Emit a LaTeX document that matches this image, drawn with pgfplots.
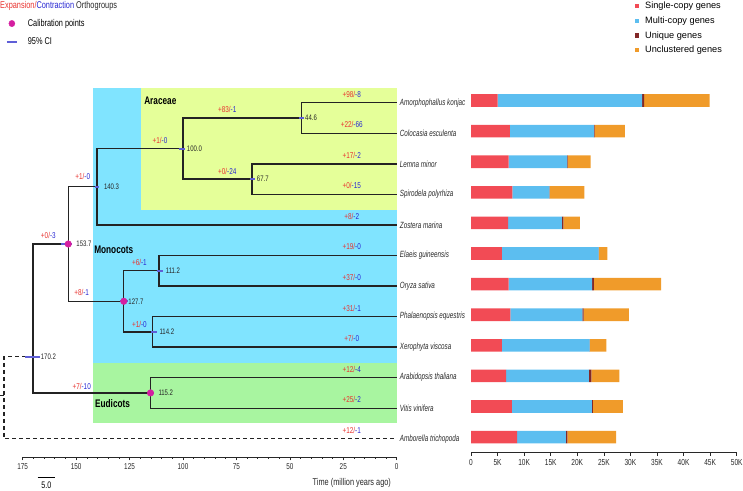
\documentclass[border=0pt]{standalone}
\usepackage{pgfplots}
\pgfplotsset{compat=1.18}
\usepackage{pgfplotstable}
\usepackage{fontspec}
\setmainfont{Liberation Sans}
\newfontfamily\nar{Liberation Sans}[FakeStretch=0.75]
\newfontfamily\narsp{Liberation Sans}[FakeStretch=0.7]
\definecolor{expred}{RGB}{232,52,48}
\definecolor{conblue}{RGB}{40,40,210}
\definecolor{txt}{RGB}{40,40,40}
\definecolor{treecol}{RGB}{35,35,35}
\definecolor{cicol}{RGB}{95,95,215}
\definecolor{calib}{RGB}{212,30,160}
\definecolor{monoblue}{RGB}{128,228,255}
\definecolor{arayellow}{RGB}{229,255,153}
\definecolor{eudgreen}{RGB}{168,245,160}
\definecolor{sc}{RGB}{242,75,85}
\definecolor{mc}{RGB}{92,190,240}
\definecolor{uq}{RGB}{130,40,40}
\definecolor{uc}{RGB}{240,155,42}
\newcommand{\el}[2]{{\color{expred}#1}{\color{conblue}#2}}
\tikzset{
  lab/.style={font=\nar\fontsize{8.5}{9}\selectfont, inner sep=0pt, yshift=8.5pt},
  nl/.style={font=\nar\fontsize{8}{9}\selectfont, inner sep=0pt, anchor=west, color=txt},
  grp/.style={font=\nar\bfseries\fontsize{11}{12}\selectfont, inner sep=0pt, anchor=west, color=black},
  sp/.style={font=\narsp\itshape\fontsize{9}{10}\selectfont, inner sep=0pt, anchor=west, xshift=3pt, color=txt},
}
\pgfplotsset{
  tree/.style={treecol, line width=1.4pt, forget plot, line join=miter},
  ci/.style={cicol, line width=2pt, forget plot},
}

\pgfplotstableread{
i single multi unique uncl
1 5000 27200 400 12300
2 7300 15800 150 5700
3 7100 11000 80 4350
4 7800 6950 60 6500
5 7000 10100 300 3100
6 5800 18200 60 1600
7 7100 15700 300 12700
8 7400 13550 250 8500
9 5800 16500 80 3100
10 6600 15600 450 5250
11 7700 15050 200 5650
12 8700 9150 300 9150
}\genes

\begin{document}
\begin{tikzpicture}
\path[use as bounding box] (0pt,0pt) rectangle (743pt,-490pt);
\node[anchor=west, inner sep=0pt, font=\nar\fontsize{9.8}{11}\selectfont] at (0pt,-5.7pt) {{\color{expred}Expansion/}{\color{conblue}Contraction} {\color{txt}Orthogroups}};

\begin{axis}[
  at={(22.7pt,-457.3pt)}, anchor=south west,
  scale only axis, width=374pt, height=377.3pt,
  x dir=reverse, xmin=0, xmax=175, ymin=-12.607, ymax=-0.257,
  clip=false,
  axis x line=bottom, axis y line=none,
  x axis line style={-, line width=0.8pt, color=txt},
  xtick={0,25,...,175}, minor x tick num=4,
  tick align=outside, major tick length=3pt, minor tick length=1.5pt,
  tick style={line width=0.6pt, color=txt},
  tick label style={font=\nar\fontsize{8.5}{9}\selectfont, color=txt},
  /pgf/number format/assume math mode=true,
  xlabel={Time (million years ago)},
  xlabel style={at={(axis description cs:0.985,-0.067)}, anchor=east, font=\nar\fontsize{9.8}{11}\selectfont, inner sep=0pt, color=txt},
  legend style={at={(axis description cs:-0.0455,1.1657)}, anchor=north west, draw=none, fill=none, inner sep=0pt,
    font=\nar\fontsize{9.8}{11}\selectfont, row sep=6.6pt,
    nodes={inner sep=1pt, text height=0.75em, text depth=0.22em},
    /tikz/every odd column/.append style={column sep=9pt}},
  legend cell align=left,
]
% clade boxes
\addplot[fill=monoblue, draw=none, forget plot] coordinates {(142.2,-0.52) (0,-0.52) (0,-9.52) (142.2,-9.52)} --cycle;
\addplot[fill=arayellow, draw=none, forget plot] coordinates {(119.8,-0.52) (0,-0.52) (0,-4.51) (119.8,-4.51)} --cycle;
\addplot[fill=eudgreen, draw=none, forget plot] coordinates {(142.2,-9.52) (0,-9.52) (0,-11.49) (142.2,-11.49)} --cycle;
% tree
\addplot[tree] coordinates {(0,-1) (44.6,-1) (44.6,-2) (0,-2)};
\addplot[tree] coordinates {(0,-3) (67.7,-3) (67.7,-4) (0,-4)};
\addplot[tree] coordinates {(44.6,-1.5) (100,-1.5) (100,-3.5) (67.7,-3.5)};
\addplot[tree] coordinates {(100,-2.5) (140.3,-2.5) (140.3,-5) (0,-5)};
\addplot[tree] coordinates {(0,-6) (111.2,-6) (111.2,-7) (0,-7)};
\addplot[tree] coordinates {(0,-8) (114.2,-8) (114.2,-9) (0,-9)};
\addplot[tree] coordinates {(111.2,-6.5) (127.7,-6.5) (127.7,-8.5) (114.2,-8.5)};
\addplot[tree] coordinates {(140.3,-3.75) (153.7,-3.75) (153.7,-7.5) (127.7,-7.5)};
\addplot[tree] coordinates {(0,-10) (115.2,-10) (115.2,-11) (0,-11)};
\addplot[tree] coordinates {(153.7,-5.625) (170.2,-5.625) (170.2,-10.5) (115.2,-10.5)};
\addplot[tree, line width=1.1pt, dash pattern=on 4pt off 3pt] coordinates {(170.2,-9.32) (183.75,-9.32) (183.75,-12) (0,-12)};
\addplot[tree, line width=1pt] coordinates {(185.6,-10.6) (183.75,-10.6)};
% CI bars
\addplot[ci] coordinates {(45.6,-1.5) (43.6,-1.5)};
\addplot[ci] coordinates {(102,-2.5) (98.9,-2.5)};
\addplot[ci] coordinates {(68.5,-3.5) (66.2,-3.5)};
\addplot[ci] coordinates {(141.3,-3.75) (139.3,-3.75)};
\addplot[ci] coordinates {(157.2,-5.625) (152,-5.625)};
\addplot[ci] coordinates {(173.9,-9.32) (166.9,-9.32)};
\addplot[ci] coordinates {(112.3,-6.5) (109.2,-6.5)};
\addplot[ci] coordinates {(129.5,-7.5) (125.6,-7.5)};
\addplot[ci] coordinates {(115,-8.5) (112,-8.5)};
\addplot[ci] coordinates {(116.5,-10.5) (113.4,-10.5)};
% calibration points
\addplot[only marks, mark=*, mark size=3.3pt, color=calib, forget plot] coordinates {(153.7,-5.625) (127.7,-7.5) (115.2,-10.5)};
% scale bar
\addplot[black, line width=0.8pt, forget plot] coordinates {(168,-13.27) (159.9,-13.27)};
\node[font=\nar\fontsize{9.5}{10}\selectfont, anchor=north, inner sep=0pt, yshift=-4.5pt] at (axis cs:163.95,-13.27) {5.0};
% group labels
\node[grp] at (axis cs:118.2,-0.94) {Araceae};
\node[grp] at (axis cs:141.6,-5.82) {Monocots};
\node[grp] at (axis cs:141.2,-10.86) {Eudicots};
% node ages
\node[nl, xshift=3.6pt] at (axis cs:44.6,-1.5) {44.6};
\node[nl, xshift=3.8pt] at (axis cs:100,-2.5) {100.0};
\node[nl, xshift=4.7pt] at (axis cs:67.7,-3.5) {67.7};
\node[nl, xshift=7pt] at (axis cs:140.3,-3.75) {140.3};
\node[nl, xshift=8pt] at (axis cs:153.7,-5.625) {153.7};
\node[nl, xshift=6.7pt] at (axis cs:111.2,-6.5) {111.2};
\node[nl, xshift=4.5pt] at (axis cs:127.7,-7.5) {127.7};
\node[nl, xshift=6.7pt] at (axis cs:114.2,-8.5) {114.2};
\node[nl, xshift=7.7pt] at (axis cs:170.2,-9.32) {170.2};
\node[nl, xshift=7.8pt] at (axis cs:115.2,-10.5) {115.2};
% internal branch labels
\node[lab] at (axis cs:79.3,-1.5) {\el{+83/}{-1}};
\node[lab, yshift=-1pt] at (axis cs:79.3,-3.5) {\el{+0/}{-24}};
\node[lab] at (axis cs:110.75,-2.5) {\el{+1/}{-0}};
\node[lab, yshift=1.5pt] at (axis cs:146.9,-3.75) {\el{+1/}{-0}};
\node[lab] at (axis cs:163,-5.625) {\el{+0/}{-3}};
\node[lab] at (axis cs:120.4,-6.5) {\el{+6/}{-1}};
\node[lab] at (axis cs:147.4,-7.5) {\el{+8/}{-1}};
\node[lab, yshift=-1pt] at (axis cs:120.4,-8.5) {\el{+1/}{-0}};
\node[lab, yshift=-2pt] at (axis cs:147.4,-10.5) {\el{+7/}{-10}};
% leaf branch labels
\node[lab] at (axis cs:21.05,-1) {\el{+98/}{-8}};
\node[lab] at (axis cs:21.05,-2) {\el{+22/}{-66}};
\node[lab] at (axis cs:21.05,-3) {\el{+17/}{-2}};
\node[lab] at (axis cs:21.05,-4) {\el{+0/}{-15}};
\node[lab] at (axis cs:21.05,-5) {\el{+8/}{-2}};
\node[lab] at (axis cs:21.05,-6) {\el{+19/}{-0}};
\node[lab] at (axis cs:21.05,-7) {\el{+37/}{-0}};
\node[lab] at (axis cs:21.05,-8) {\el{+31/}{-1}};
\node[lab] at (axis cs:21.05,-9) {\el{+7/}{-0}};
\node[lab] at (axis cs:21.05,-10) {\el{+12/}{-4}};
\node[lab] at (axis cs:21.05,-11) {\el{+25/}{-2}};
\node[lab] at (axis cs:21.05,-12) {\el{+12/}{-1}};
% species
\node[sp] at (axis cs:0,-1) {Amorphophallus konjac};
\node[sp] at (axis cs:0,-2) {Colocasia esculenta};
\node[sp] at (axis cs:0,-3) {Lemna minor};
\node[sp] at (axis cs:0,-4) {Spirodela polyrhiza};
\node[sp] at (axis cs:0,-5) {Zostera marina};
\node[sp] at (axis cs:0,-6) {Elaeis guineensis};
\node[sp] at (axis cs:0,-7) {Oryza sativa};
\node[sp] at (axis cs:0,-8) {Phalaenopsis equestris};
\node[sp] at (axis cs:0,-9) {Xerophyta viscosa};
\node[sp] at (axis cs:0,-10) {Arabidopsis thaliana};
\node[sp] at (axis cs:0,-11) {Vitis vinifera};
\node[sp] at (axis cs:0,-12) {Amborella trichopoda};
% legend
\addlegendimage{legend image code/.code={\fill[calib] (5pt,0pt) ellipse (3pt and 3.2pt);}}
\addlegendentry{Calibration points}
\addlegendimage{legend image code/.code={\draw[cicol, line width=2pt] (0pt,0pt) -- (10pt,0pt);}}
\addlegendentry{95\% CI}
\end{axis}

\begin{axis}[
  at={(471pt,-452.7pt)}, anchor=south west,
  scale only axis, width=265.7pt, height=367.5pt,
  xmin=0, xmax=50000, ymin=-12.51, ymax=-0.5,
  xbar stacked, bar width=12.6pt,
  axis x line=bottom, axis y line=none,
  x axis line style={-, line width=0.8pt, color=txt},
  xtick={0,5000,...,50000},
  xticklabels={0,5K,10K,15K,20K,25K,30K,35K,40K,45K,50K},
  scaled x ticks=false,
  tick align=outside, major tick length=3pt,
  tick style={line width=0.6pt, color=txt},
  tick label style={font=\nar\fontsize{8.75}{10}\selectfont, color=txt},
  legend style={at={(axis description cs:0.616,1.232)}, anchor=north west, draw=none, fill=none, inner sep=0pt,
    font=\fontsize{9.2}{10}\selectfont, row sep=3pt,
    nodes={inner sep=1pt, text height=0.75em, text depth=0.22em},
    /tikz/every odd column/.append style={column sep=5pt}},
  legend cell align=left,
]
\addplot[draw=none, fill=sc, legend image code/.code={\fill[sc] (0pt,-2.15pt) rectangle (4.3pt,2.15pt);}] table[x=single, y expr=-\thisrow{i}] {\genes};
\addlegendentry{Single-copy genes}
\addplot[draw=none, fill=mc, legend image code/.code={\fill[mc] (0pt,-2.15pt) rectangle (4.3pt,2.15pt);}] table[x=multi, y expr=-\thisrow{i}] {\genes};
\addlegendentry{Multi-copy genes}
\addplot[draw=none, fill=uq, legend image code/.code={\fill[uq] (0pt,-2.15pt) rectangle (4.3pt,2.15pt);}] table[x=unique, y expr=-\thisrow{i}] {\genes};
\addlegendentry{Unique genes}
\addplot[draw=none, fill=uc, legend image code/.code={\fill[uc] (0pt,-2.15pt) rectangle (4.3pt,2.15pt);}] table[x=uncl, y expr=-\thisrow{i}] {\genes};
\addlegendentry{Unclustered genes}
\end{axis}
\end{tikzpicture}
\end{document}
